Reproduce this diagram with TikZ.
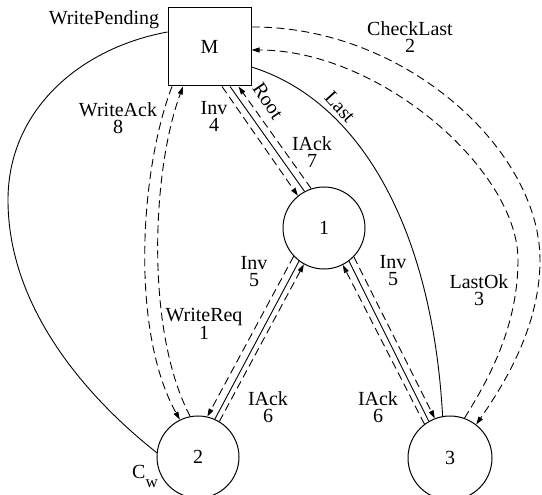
\documentclass[tikz,border=0pt]{standalone}
\usepackage{fontspec}
\setmainfont{Liberation Serif}
\usetikzlibrary{arrows.meta,calc}
\begin{document}
\begin{tikzpicture}[x=1pt,y=-1pt,
  every node/.style={font=\fontsize{20}{17}\selectfont},
  lbl/.style={align=center, inner sep=0pt},
  circ/.style={draw, circle, minimum size=82pt, inner sep=0pt, line width=1pt},
  box/.style={draw, rectangle, minimum width=83pt, minimum height=78pt, inner sep=0pt, line width=1pt},
  conn/.style={line width=0.9pt},
  dsh/.style={conn, dash pattern=on 8pt off 4.5pt},
  arr/.style={-{Triangle[length=8pt,width=5pt]}},
]
\useasboundingbox (0,0) rectangle (542,495);

% nodes
\node[box] (M) at (209.5,47) {M};
\node[circ] (n1) at (324,228) {1};
\node[circ] (n2) at (198,457) {2};
\node[circ, minimum size=84pt] (n3) at (450,458) {3};

% WritePending pointer
\draw[conn] ($(M.west)+(0,-15)$) .. controls (80,48) and (8,110) .. (8,200)
  .. controls (8,310) and (90,400) .. (n2.174);

% WriteAck / WriteReq
\draw[dsh,arr] ($(M.south)+(-37.5,0)$) .. controls (140,170) and (130,330) .. (n2.116);
\draw[dsh,arr] (n2.101) .. controls (145,330) and (152,170) .. ($(M.south)+(-26.5,0)$);

% M -- 1
\draw[dsh,arr] ($(M.south)+(12.5,0)$) -- (n1.129);
\draw[conn] ($(M.south)+(20.5,0)$) -- (n1.118);
\draw[dsh,arr] (n1.108) -- ($(M.south)+(29,0)$);

% 1 -- 2
\draw[dsh,arr] (n1.223) -- (n2.77);
\draw[conn] (n1.233) -- (n2.66);
\draw[dsh,arr] (n2.59) -- (n1.241);

% 1 -- 3
\draw[dsh,arr] (n3.127) -- (n1.297);
\draw[conn] (n1.307) -- (n3.120);
\draw[dsh,arr] (n1.316) -- (n3.111);

% Last pointer
\draw[conn] ($(M.east)+(0,20)$) .. controls (358,100) and (432,225) .. (n3.100);

% CheckLast / LastOk
\draw[dsh,arr] ($(M.east)+(0,-20)$) .. controls (405,26) and (540,150) .. (540,260)
  .. controls (540,330) and (500,390) .. (n3.52);
\draw[dsh,arr] (n3.70) .. controls (485,385) and (518,330) .. (518,260)
  .. controls (518,170) and (380,50) .. ($(M.east)+(0,3)$);

% labels
\node[lbl] (lWP) at (104,20) {WritePending};
\node[lbl] (lWA) at (118,118) {WriteAck\\8};
\node[lbl] (lI4) at (214,116) {Inv\\4};
\node[lbl, rotate=-56] (lRoot) at (268,101) {Root};
\node[lbl] (lIA7) at (312,152) {IAck\\7};
\node[lbl, rotate=-48] (lLast) at (340,107) {Last};
\node[lbl] (lCL) at (410,37) {CheckLast\\2};
\node[lbl] (lI5a) at (254,272) {Inv\\5};
\node[lbl] (lWR) at (204,324) {WriteReq\\1};
\node[lbl] (lI5b) at (393,271) {Inv\\5};
\node[lbl] (lLO) at (479,290) {LastOk\\3};
\node[lbl] (lIA6a) at (268,407) {IAck\\6};
\node[lbl] (lIA6b) at (378,407) {IAck\\6};
\node[lbl, anchor=base west] (lCw) at (132,478) {C\raisebox{-9pt}{\fontsize{17}{17}\selectfont w}};
\end{tikzpicture}
\end{document}
